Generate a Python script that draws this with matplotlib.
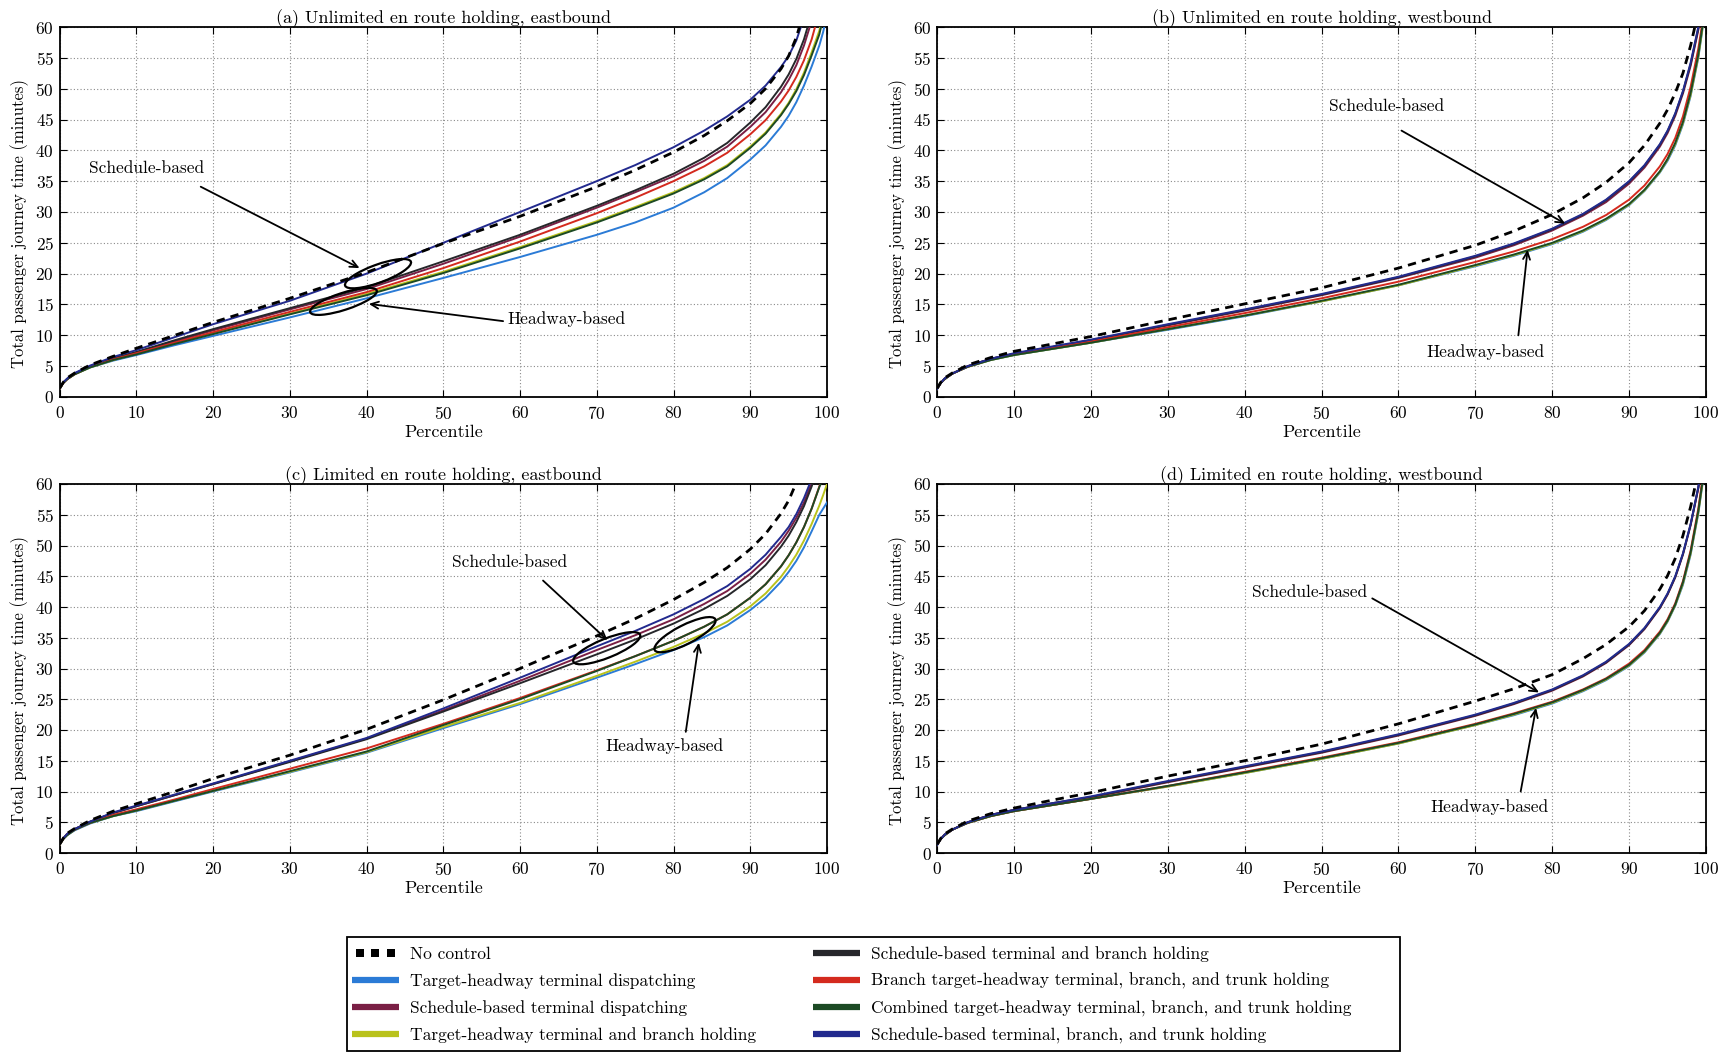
import matplotlib
matplotlib.use("Agg")
import matplotlib.pyplot as plt
import matplotlib.transforms as mtransforms
from matplotlib.patches import Ellipse, Rectangle
from matplotlib.lines import Line2D
from matplotlib.legend_handler import HandlerLine2D

# ---------------- data ----------------
percentile = [0, 0.5, 1, 2, 4, 7, 10, 15, 20, 30, 40, 50, 60, 70, 75, 80, 84, 87, 90, 92, 94, 95, 96, 97, 98, 99, 99.5, 100]

legend_labels = [
    "No control",
    "Target-headway terminal dispatching",
    "Schedule-based terminal dispatching",
    "Target-headway terminal and branch holding",
    "Schedule-based terminal and branch holding",
    "Branch target-headway terminal, branch, and trunk holding",
    "Combined target-headway terminal, branch, and trunk holding",
    "Schedule-based terminal, branch, and trunk holding",
]

panel_titles = [
    "(a) Unlimited en route holding, eastbound",
    "(b) Unlimited en route holding, westbound",
    "(c) Limited en route holding, eastbound",
    "(d) Limited en route holding, westbound",
]

# (a) unlimited, eastbound
a_none = [1.4, 2.4, 3.1, 3.9, 5.2, 6.6, 7.9, 10.0, 12.1, 16.0, 20.2, 24.9, 29.3, 34.1, 36.8, 39.7, 42.4, 44.8, 47.6, 50.0, 53.2, 55.3, 58.3, 62.5, 68.0, 76.0, 84.0, 95.0]
a_th_term = [1.3, 2.3, 2.9, 3.7, 4.8, 5.9, 6.8, 8.4, 9.9, 12.9, 16.0, 19.3, 22.7, 26.3, 28.3, 30.7, 33.2, 35.5, 38.5, 40.8, 43.8, 45.6, 47.8, 50.5, 53.6, 57.0, 59.2, 62.0]
a_sc_term = [1.3, 2.3, 2.9, 3.8, 4.9, 6.2, 7.2, 9.0, 10.8, 14.2, 17.5, 21.6, 26.0, 30.7, 33.2, 35.8, 38.3, 40.6, 43.8, 46.2, 49.4, 51.4, 53.8, 57.0, 61.0, 67.5, 74.0, 85.0]
a_th_tb = [1.3, 2.3, 2.9, 3.7, 4.8, 6.0, 7.0, 8.7, 10.3, 13.5, 16.7, 20.3, 24.3, 28.5, 30.8, 33.2, 35.5, 37.6, 40.6, 42.9, 45.9, 47.7, 49.9, 52.6, 55.9, 59.4, 62.0, 68.0]
a_sc_tb = [1.3, 2.3, 2.9, 3.8, 5.0, 6.3, 7.3, 9.2, 11.0, 14.4, 17.8, 22.0, 26.3, 31.0, 33.5, 36.2, 38.8, 41.2, 44.5, 47.0, 50.3, 52.3, 54.8, 58.0, 62.2, 69.0, 76.0, 88.0]
a_branch = [1.3, 2.3, 2.9, 3.7, 4.9, 6.1, 7.1, 8.8, 10.5, 13.8, 17.0, 20.9, 25.2, 29.8, 32.3, 35.0, 37.4, 39.6, 42.6, 44.9, 47.9, 49.7, 51.9, 54.6, 58.0, 62.5, 67.0, 75.0]
a_combined = [1.3, 2.3, 2.9, 3.7, 4.8, 6.0, 6.9, 8.6, 10.2, 13.4, 16.5, 20.1, 24.1, 28.3, 30.6, 33.0, 35.3, 37.4, 40.4, 42.7, 45.7, 47.5, 49.6, 52.2, 55.4, 58.8, 61.5, 67.0]
a_sc_all = [1.4, 2.4, 3.0, 3.9, 5.1, 6.5, 7.6, 9.7, 11.8, 15.6, 20.0, 25.0, 30.0, 35.0, 37.6, 40.5, 43.2, 45.5, 48.2, 50.5, 53.5, 55.3, 57.8, 61.5, 67.0, 75.0, 83.0, 95.0]

# (b) unlimited, westbound
b_none = [1.4, 2.4, 3.1, 3.9, 5.2, 6.4, 7.4, 8.6, 9.8, 12.5, 15.1, 17.7, 20.9, 24.6, 26.9, 29.6, 32.3, 34.8, 38.0, 40.8, 44.4, 46.6, 49.3, 52.5, 57.0, 62.5, 67.0, 75.0]
b_th_term = [1.3, 2.3, 2.9, 3.8, 4.9, 6.0, 6.8, 7.8, 8.8, 10.9, 13.1, 15.5, 18.1, 21.2, 22.9, 24.8, 26.8, 28.7, 31.1, 33.4, 36.4, 38.3, 40.8, 44.2, 48.8, 55.0, 59.3, 65.0]
b_sc_term = [1.3, 2.3, 3.0, 3.8, 5.0, 6.2, 7.0, 8.1, 9.2, 11.6, 14.0, 16.5, 19.3, 22.6, 24.6, 27.0, 29.4, 31.6, 34.6, 37.2, 40.6, 42.8, 45.6, 49.2, 53.7, 59.5, 63.5, 70.0]
b_th_tb = [1.3, 2.3, 2.9, 3.8, 4.9, 6.0, 6.8, 7.8, 8.8, 11.0, 13.2, 15.5, 18.1, 21.3, 23.0, 24.9, 26.9, 28.8, 31.2, 33.5, 36.5, 38.5, 41.0, 44.4, 49.0, 55.2, 59.5, 65.0]
b_sc_tb = [1.3, 2.3, 3.0, 3.8, 5.0, 6.2, 7.0, 8.1, 9.2, 11.7, 14.1, 16.6, 19.4, 22.8, 24.8, 27.2, 29.6, 31.9, 34.9, 37.5, 40.9, 43.1, 45.9, 49.5, 54.0, 59.8, 63.8, 70.0]
b_branch = [1.3, 2.3, 2.9, 3.8, 4.9, 6.1, 6.9, 8.0, 9.0, 11.3, 13.6, 16.0, 18.7, 21.9, 23.6, 25.6, 27.6, 29.5, 32.0, 34.3, 37.4, 39.4, 42.0, 45.5, 50.3, 56.5, 60.5, 66.0]
b_combined = [1.3, 2.3, 2.9, 3.8, 4.9, 6.0, 6.8, 7.8, 8.8, 11.0, 13.2, 15.6, 18.2, 21.4, 23.1, 25.0, 27.0, 28.9, 31.3, 33.6, 36.6, 38.6, 41.2, 44.6, 49.3, 55.5, 59.8, 65.0]
b_sc_all = [1.3, 2.3, 3.0, 3.8, 5.0, 6.2, 7.1, 8.2, 9.3, 11.8, 14.2, 16.7, 19.5, 22.9, 24.9, 27.3, 29.7, 32.0, 35.0, 37.6, 41.0, 43.2, 46.0, 49.6, 54.2, 60.0, 64.0, 70.0]

# (c) limited, eastbound
c_none = [1.4, 2.4, 3.2, 4.0, 5.3, 6.8, 8.0, 10.0, 12.1, 15.9, 20.1, 24.9, 30.0, 35.3, 38.1, 41.2, 44.0, 46.4, 49.4, 51.9, 55.2, 57.3, 60.2, 64.5, 70.0, 78.0, 85.0, 95.0]
c_th_term = [1.3, 2.3, 2.9, 3.7, 4.8, 6.0, 6.8, 8.4, 10.0, 13.1, 16.3, 20.3, 24.2, 28.5, 30.7, 33.0, 35.1, 37.0, 39.5, 41.5, 44.1, 45.7, 47.5, 49.7, 52.3, 55.0, 56.0, 57.0]
c_sc_term = [1.4, 2.4, 3.1, 3.9, 5.1, 6.5, 7.6, 9.4, 11.2, 14.9, 18.6, 23.2, 28.0, 33.0, 35.4, 38.0, 40.5, 42.6, 45.4, 47.7, 50.6, 52.4, 54.5, 57.0, 60.2, 64.0, 67.5, 74.0]
c_th_tb = [1.3, 2.3, 2.9, 3.8, 4.9, 6.0, 6.9, 8.5, 10.1, 13.2, 16.4, 20.5, 24.4, 28.8, 31.1, 33.5, 35.7, 37.6, 40.1, 42.2, 44.9, 46.6, 48.5, 50.8, 53.5, 56.5, 58.2, 60.0]
c_sc_tb = [1.4, 2.4, 3.1, 3.9, 5.1, 6.5, 7.6, 9.4, 11.2, 14.8, 18.5, 23.0, 27.6, 32.3, 34.7, 37.3, 39.7, 41.8, 44.5, 46.8, 49.8, 51.6, 53.8, 56.4, 59.6, 63.5, 67.0, 73.0]
c_branch = [1.3, 2.3, 3.0, 3.8, 4.9, 6.2, 7.1, 8.7, 10.4, 13.7, 17.0, 21.0, 25.2, 29.7, 32.0, 34.5, 36.8, 38.8, 41.5, 43.7, 46.6, 48.4, 50.5, 53.0, 56.0, 59.6, 61.5, 64.0]
c_combined = [1.3, 2.3, 2.9, 3.8, 4.9, 6.0, 6.9, 8.5, 10.1, 13.3, 16.5, 20.8, 25.0, 29.6, 32.0, 34.5, 36.8, 38.8, 41.5, 43.7, 46.6, 48.4, 50.5, 53.0, 56.0, 59.5, 61.0, 63.0]
c_sc_all = [1.4, 2.4, 3.1, 3.9, 5.1, 6.6, 7.7, 9.5, 11.3, 15.0, 18.7, 23.5, 28.5, 33.6, 36.1, 38.8, 41.3, 43.4, 46.2, 48.5, 51.4, 53.0, 55.1, 57.7, 60.8, 64.5, 68.0, 75.0]

# (d) limited, westbound
d_none = [1.4, 2.4, 3.1, 3.9, 5.2, 6.4, 7.3, 8.6, 9.8, 12.5, 15.0, 17.7, 21.0, 24.7, 26.7, 29.0, 31.6, 33.9, 36.8, 39.4, 42.9, 45.1, 47.9, 51.6, 56.3, 62.0, 66.0, 72.0]
d_th_term = [1.3, 2.3, 2.9, 3.8, 4.9, 6.0, 6.8, 7.8, 8.8, 10.8, 13.0, 15.3, 17.8, 20.8, 22.4, 24.3, 26.3, 28.1, 30.4, 32.6, 35.6, 37.6, 40.2, 43.6, 48.5, 55.2, 59.6, 65.0]
d_sc_term = [1.3, 2.3, 3.0, 3.8, 5.0, 6.2, 7.0, 8.0, 9.0, 11.5, 13.9, 16.3, 19.1, 22.3, 24.2, 26.4, 28.7, 30.9, 33.8, 36.4, 39.8, 42.0, 44.8, 48.5, 53.3, 59.3, 63.3, 69.0]
d_th_tb = [1.3, 2.3, 2.9, 3.8, 4.9, 6.0, 6.8, 7.8, 8.8, 10.8, 13.0, 15.3, 17.8, 20.8, 22.5, 24.4, 26.4, 28.2, 30.5, 32.7, 35.7, 37.7, 40.3, 43.8, 48.7, 55.4, 59.8, 65.0]
d_sc_tb = [1.3, 2.3, 3.0, 3.8, 5.0, 6.2, 7.0, 8.1, 9.1, 11.6, 14.0, 16.4, 19.2, 22.4, 24.3, 26.5, 28.8, 31.0, 33.9, 36.5, 39.9, 42.1, 44.9, 48.6, 53.4, 59.4, 63.4, 69.0]
d_branch = [1.3, 2.3, 2.9, 3.8, 4.9, 6.0, 6.8, 7.8, 8.8, 10.9, 13.2, 15.5, 18.0, 21.0, 22.7, 24.6, 26.6, 28.4, 30.8, 33.0, 36.0, 38.0, 40.6, 44.2, 49.2, 56.0, 60.5, 66.0]
d_combined = [1.3, 2.3, 2.9, 3.8, 4.9, 6.0, 6.8, 7.8, 8.8, 10.9, 13.1, 15.4, 17.9, 20.9, 22.6, 24.5, 26.5, 28.3, 30.6, 32.8, 35.8, 37.8, 40.4, 44.0, 48.9, 55.6, 60.0, 65.0]
d_sc_all = [1.3, 2.3, 3.0, 3.8, 5.0, 6.2, 7.0, 8.1, 9.2, 11.7, 14.1, 16.5, 19.3, 22.5, 24.4, 26.6, 28.9, 31.1, 34.0, 36.6, 40.0, 42.2, 45.0, 48.7, 53.5, 59.5, 63.5, 69.0]

panel_series = [
    [a_none, a_th_term, a_sc_term, a_th_tb, a_sc_tb, a_branch, a_combined, a_sc_all],
    [b_none, b_th_term, b_sc_term, b_th_tb, b_sc_tb, b_branch, b_combined, b_sc_all],
    [c_none, c_th_term, c_sc_term, c_th_tb, c_sc_tb, c_branch, c_combined, c_sc_all],
    [d_none, d_th_term, d_sc_term, d_th_tb, d_sc_tb, d_branch, d_combined, d_sc_all],
]

# ---------------- style ----------------
colors = ["black", "#2b7bd6", "#7a1f45", "#b9c21c", "#26272b", "#d42a1e", "#1c4a24", "#222a8e"]
draw_order = [1, 2, 3, 4, 5, 6, 7, 0]

plt.rcParams["font.family"] = ["cmr10", "DejaVu Serif"]
plt.rcParams["axes.formatter.use_mathtext"] = True
plt.rcParams["mathtext.fontset"] = "cm"

W, H = 1729, 1052
fig = plt.figure(figsize=(W / 100, H / 100), dpi=100)

# axes boxes in pixel coordinates: left, top, right, bottom
boxes = [(59.5, 27, 827, 397), (937, 27, 1706, 397), (59.5, 484, 827, 853), (937, 484, 1706, 853)]

# annotations: (text, text_xy, arrow_start, arrow_end)
notes = [
    [("Schedule-based", (11.4, 37.0), (18.4, 34.1), (39.1, 20.9)),
     ("Headway-based", (66.0, 12.7), (57.8, 12.3), (40.3, 15.1))],
    [("Schedule-based", (58.4, 47.2), (60.4, 43.2), (81.7, 28.1)),
     ("Headway-based", (71.3, 7.3), (75.6, 10.0), (76.8, 23.9))],
    [("Schedule-based", (58.7, 47.3), (63.0, 44.3), (71.4, 34.6)),
     ("Headway-based", (78.8, 17.4), (81.6, 19.7), (83.3, 34.2))],
    [("Schedule-based", (48.4, 42.4), (56.6, 41.4), (78.3, 26.1)),
     ("Headway-based", (71.8, 7.5), (75.9, 10.0), (77.9, 23.6))],
]
# ellipses: (cx, cy, width_px, height_px, angle_deg)
rings = [
    [(41.5, 20.0, 70, 18, 20), (37.0, 15.5, 70, 17, 18)],
    [],
    [(71.3, 33.3, 72, 19, 22), (81.5, 35.5, 68, 19, 27)],
    [],
]

for k, (l, t, r, b) in enumerate(boxes):
    ax = fig.add_axes([l / W, 1 - b / H, (r - l) / W, (b - t) / H])
    series = panel_series[k]
    for i in draw_order:
        if i == 0:
            ax.plot(percentile, series[i], color=colors[i], lw=2.0, linestyle=(0, (3.0, 2.2)), zorder=5)
        else:
            ax.plot(percentile, series[i], color=colors[i], lw=1.4, zorder=3 + i * 0.1,
                    solid_joinstyle="round")
    ax.set_xlim(0, 100)
    ax.set_ylim(0, 60)
    ax.set_xticks(range(0, 101, 10))
    ax.set_yticks(range(0, 61, 5))
    ax.grid(True, color="#8a8a8a", linestyle=(0, (1, 2)), lw=0.8)
    ax.set_axisbelow(True)
    ax.tick_params(direction="in", top=True, right=True, length=5, width=0.8, labelsize=12.5)
    ax.tick_params(axis="x", pad=6)
    ax.tick_params(axis="y", pad=4)
    for s in ax.spines.values():
        s.set_linewidth(1.3)
    ax.set_title(panel_titles[k], fontsize=13, pad=3)
    ax.set_xlabel("Percentile", fontsize=13, labelpad=2)
    ax.set_ylabel("Total passenger journey time (minutes)", fontsize=12)
    ax.yaxis.set_label_coords(-30.0 / (r - l), 0.468)

    for txt, txy, a0, a1 in notes[k]:
        ax.text(txy[0], txy[1], txt, ha="center", va="center", fontsize=12.5, zorder=8)
        ax.annotate("", xy=a1, xytext=a0,
                    arrowprops=dict(arrowstyle="->,head_length=0.55,head_width=0.25", lw=1.3, color="black",
                                    shrinkA=0, shrinkB=0), zorder=8)
    for cx, cy, w, h, ang in rings[k]:
        tr = fig.dpi_scale_trans + mtransforms.ScaledTranslation(cx, cy, ax.transData)
        ax.add_patch(Ellipse((0, 0), w / 100, h / 100, angle=ang, transform=tr, fill=False,
                             ec="black", lw=1.6, zorder=9, clip_on=False))

# ---------------- legend ----------------
handles = [Line2D([], [], color=colors[0], linestyle="none", marker="s", markersize=5.2,
                  markeredgewidth=0)]
for c in colors[1:]:
    handles.append(Line2D([], [], color=c, lw=4.5, solid_capstyle="butt"))

fig.legend(handles, legend_labels, ncol=2, loc="upper left",
           bbox_to_anchor=(352 / W, 1 - 946 / H), frameon=False, fontsize=12.5,
           handlelength=2.7, handletextpad=0.63, labelspacing=0.64, columnspacing=3.3,
           borderpad=0, borderaxespad=0,
           handler_map={handles[0]: HandlerLine2D(numpoints=3, marker_pad=0.45)})
fig.patches.append(Rectangle((347 / W, 1 - 1051 / H), (1400 - 347) / W, (1051 - 937) / H,
                             transform=fig.transFigure, fill=False, ec="black", lw=1.3))

fig.savefig("out.png", dpi=100)
